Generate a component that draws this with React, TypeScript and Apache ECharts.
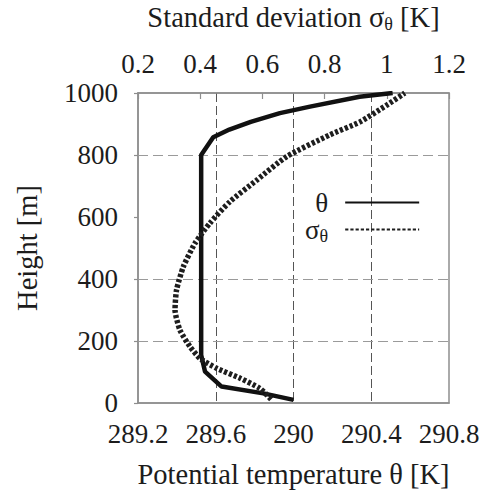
import React, { useEffect, useRef } from 'react';
import * as echarts from 'echarts';

// Mean potential temperature profile θ [K] against height [m]
const thetaTemp = [290.0, 289.845, 289.63, 289.545, 289.525, 289.525, 289.587, 289.67, 289.78, 289.93, 290.085, 290.34, 290.51];
const thetaHeight = [10, 31, 53, 101, 155, 800, 857, 882, 907, 935, 956, 988, 1000];

// Standard deviation σθ [K] against height [m]
const sigmaValues = [0.628, 0.592, 0.528, 0.453, 0.399, 0.367, 0.335, 0.319, 0.324, 0.346, 0.383, 0.431, 0.496, 0.582, 0.678, 0.817, 0.914, 1.0, 1.058];
const sigmaHeight = [12, 47, 80, 112, 144, 182, 235, 300, 365, 440, 515, 580, 650, 719, 795, 865, 907, 961, 1000];

// Axis ranges
const tempRange = { min: 289.2, max: 290.8, interval: 0.4 };
const sigmaRange = { min: 0.2, max: 1.2, interval: 0.2 };
const heightRange = { min: 0, max: 1000, interval: 200 };
const heightGridLines = [200, 400, 800];

const FONT = 'Liberation Serif';
const TEXT = '#1c1c1c';
const FRAME = '#8e8e8e';
const TICK_SIZE = 27;
const NAME_SIZE = 28.5;

export default function App() {
  const ref = useRef<HTMLDivElement>(null);

  useEffect(() => {
    if (!ref.current) return;
    const chart = echarts.init(ref.current, null, { renderer: 'svg' });

    const thetaData = thetaTemp.map((t, i) => [t, thetaHeight[i]]);
    const sigmaData = sigmaValues.map((s, i) => [s, sigmaHeight[i]]);

    const nameRich = {
      n: { fontFamily: FONT, fontSize: NAME_SIZE, color: TEXT },
      sub: { fontFamily: FONT, fontSize: 18, color: TEXT, padding: [13, 0, 0, 0] },
    };
    const legendRich = {
      n: { fontFamily: FONT, fontSize: 27, color: TEXT },
      sub: { fontFamily: FONT, fontSize: 18, color: TEXT, padding: [13, 0, 0, 0] },
    };
    const tickLabel = {
      fontFamily: FONT,
      fontSize: TICK_SIZE,
      color: TEXT,
      formatter: (v: number) => String(Math.round(v * 1000) / 1000),
    };

    chart.setOption({
      animation: false,
      backgroundColor: '#ffffff',
      textStyle: { fontFamily: FONT, color: TEXT },
      grid: {
        left: 138,
        top: 93,
        width: 311,
        height: 310,
        show: true,
        borderColor: FRAME,
        borderWidth: 1.5,
        containLabel: false,
        outerBoundsMode: 'none',
      },
      legend: {
        orient: 'vertical',
        left: 300,
        top: 184,
        align: 'right',
        itemWidth: 74,
        itemHeight: 12,
        itemGap: 0,
        data: ['θ', 'σθ'],
        itemStyle: { color: 'rgba(0,0,0,0)', borderWidth: 0, opacity: 0 },
        formatter: (name: string) => (name === 'σθ' ? '{n|σ}{sub|θ}' : '{n|θ}'),
        textStyle: { fontFamily: FONT, fontSize: 27, color: TEXT, padding: [0, 12, 0, 0], rich: legendRich },
      },
      xAxis: [
        {
          type: 'value',
          position: 'bottom',
          min: tempRange.min,
          max: tempRange.max,
          interval: tempRange.interval,
          name: 'Potential temperature θ [K]',
          nameLocation: 'middle',
          nameGap: 57,
          nameMoveOverlap: false,
          nameTextStyle: { fontFamily: FONT, fontSize: NAME_SIZE, color: TEXT },
          axisLine: { show: true, lineStyle: { color: FRAME, width: 1.5 } },
          axisTick: { show: false },
          axisLabel: { ...tickLabel, margin: 17 },
          splitLine: {
            show: true,
            showMinLine: false,
            showMaxLine: false,
            lineStyle: { color: '#555555', width: 1, type: [9, 4] },
          },
        },
        {
          type: 'value',
          position: 'top',
          min: sigmaRange.min,
          max: sigmaRange.max,
          interval: sigmaRange.interval,
          name: '{n|Standard deviation σ}{sub|θ}{n| [K]}',
          nameLocation: 'middle',
          nameGap: 60,
          nameMoveOverlap: false,
          nameTextStyle: { fontFamily: FONT, fontSize: NAME_SIZE, color: TEXT, rich: nameRich },
          axisLine: { show: true, lineStyle: { color: FRAME, width: 1.5 } },
          axisTick: { show: true, inside: true, length: 6, lineStyle: { color: FRAME, width: 1.2 } },
          axisLabel: { ...tickLabel, margin: 16 },
          splitLine: { show: false },
        },
      ],
      yAxis: {
        type: 'value',
        min: heightRange.min,
        max: heightRange.max,
        interval: heightRange.interval,
        name: 'Height [m]',
        nameLocation: 'middle',
        nameGap: 96,
        nameMoveOverlap: false,
        nameTextStyle: { fontFamily: FONT, fontSize: NAME_SIZE, color: TEXT },
        axisLine: { show: true, lineStyle: { color: FRAME, width: 1.5 } },
        axisTick: { show: true, length: 4, lineStyle: { color: FRAME, width: 1.2 } },
        axisLabel: {
          ...tickLabel,
          margin: 20,
          verticalAlignMinLabel: 'middle',
          verticalAlignMaxLabel: 'middle',
        },
        splitLine: { show: false },
      },
      series: [
        {
          name: 'θ',
          type: 'line',
          xAxisIndex: 0,
          data: thetaData,
          showSymbol: false,
          symbol: 'none',
          lineStyle: { color: '#111111', width: 4.5, type: 'solid' },
          itemStyle: { color: '#111111' },
          z: 3,
          markLine: {
            silent: true,
            symbol: 'none',
            label: { show: false },
            lineStyle: { color: '#9a9a9a', width: 1, type: [10, 5] },
            data: heightGridLines.map((h) => ({ yAxis: h })),
            z: 1,
          },
        },
        {
          name: 'σθ',
          type: 'line',
          xAxisIndex: 1,
          data: sigmaData,
          smooth: 0.2,
          showSymbol: false,
          symbol: 'none',
          lineStyle: { color: '#1e1e1e', width: 5.5, type: [3.2, 2] },
          itemStyle: { color: '#1e1e1e' },
          z: 3,
        },
      ],
    });

    return () => chart.dispose();
  }, []);

  return (
    <div
      ref={ref}
      style={{ position: 'fixed', left: 0, top: 0, width: 481, height: 491, background: '#fff' }}
    />
  );
}
